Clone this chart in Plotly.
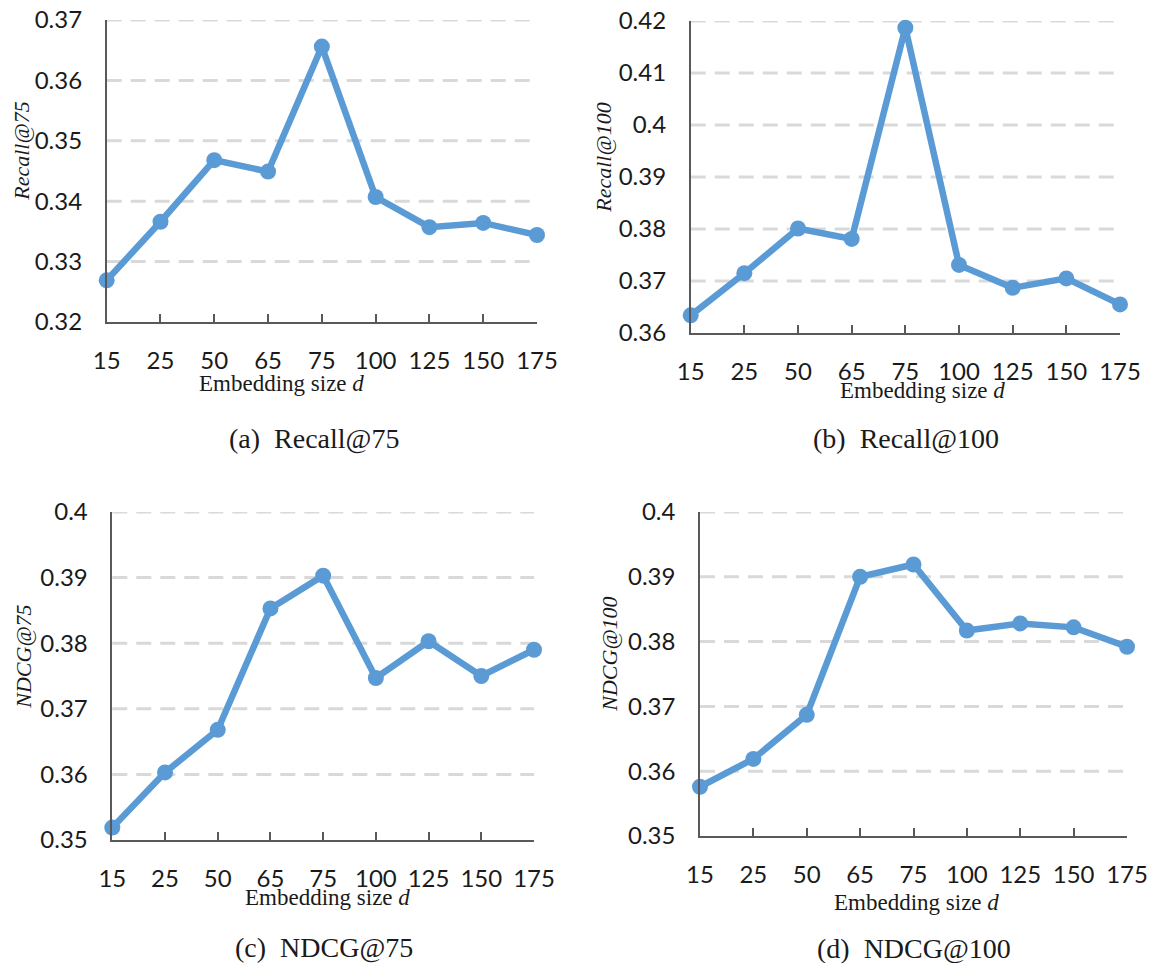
import plotly.graph_objects as go

# ---------------- data ----------------
embedding_sizes = ["15", "25", "50", "65", "75", "100", "125", "150", "175"]

recall_75 = [0.3269, 0.3366, 0.3468, 0.3449, 0.3656, 0.3407, 0.3357, 0.3364, 0.3344]
recall_100 = [0.3634, 0.3715, 0.3801, 0.3781, 0.4187, 0.3731, 0.3687, 0.3705, 0.3655]
ndcg_75 = [0.3519, 0.3603, 0.3668, 0.3853, 0.3903, 0.3747, 0.3803, 0.3750, 0.3790]
ndcg_100 = [0.3576, 0.3619, 0.3687, 0.3900, 0.3919, 0.3817, 0.3828, 0.3822, 0.3792]

yticks_recall_75 = [0.32, 0.33, 0.34, 0.35, 0.36, 0.37]
ytext_recall_75 = ["0.32", "0.33", "0.34", "0.35", "0.36", "0.37"]
yticks_recall_100 = [0.36, 0.37, 0.38, 0.39, 0.40, 0.41, 0.42]
ytext_recall_100 = ["0.36", "0.37", "0.38", "0.39", "0.4", "0.41", "0.42"]
yticks_ndcg = [0.35, 0.36, 0.37, 0.38, 0.39, 0.40]
ytext_ndcg = ["0.35", "0.36", "0.37", "0.38", "0.39", "0.4"]

y_titles = ["Recall@75", "Recall@100", "NDCG@75", "NDCG@100"]
captions = ["(a)  Recall@75", "(b)  Recall@100", "(c)  NDCG@75", "(d)  NDCG@100"]
x_title = "Embedding size <i>d</i>"

# ---------------- layout geometry (paper fractions) ----------------
W, H = 1150, 963
panels = [
    dict(vals=recall_75, yt=yticks_recall_75, ytx=ytext_recall_75,
         px=(106.7, 537), py=(20, 322), ytitle_x=22, xtitle=(281, 383), cap=(314, 438)),
    dict(vals=recall_100, yt=yticks_recall_100, ytx=ytext_recall_100,
         px=(690.7, 1120), py=(21, 333), ytitle_x=604, xtitle=(922, 390), cap=(906, 438)),
    dict(vals=ndcg_75, yt=yticks_ndcg, ytx=ytext_ndcg,
         px=(112.3, 534), py=(512, 840), ytitle_x=24, xtitle=(327, 897), cap=(324, 947)),
    dict(vals=ndcg_100, yt=yticks_ndcg, ytx=ytext_ndcg,
         px=(700, 1127), py=(512, 836), ytitle_x=610, xtitle=(916, 902), cap=(914, 948)),
]

LINE = "#5B9BD5"
AXIS = "#595959"
GRID = "#D9D9D9"
TICKFONT = dict(family="Lato, Open Sans, sans-serif", size=24, color="#1a1a1a")
SERIF = "Liberation Serif, Times New Roman, serif"

fig = go.Figure()
annotations = []
shapes = []

for i, p in enumerate(panels, start=1):
    xa = "x" if i == 1 else f"x{i}"
    ya = "y" if i == 1 else f"y{i}"
    fig.add_trace(go.Scatter(
        x=embedding_sizes, y=p["vals"], mode="lines+markers",
        line=dict(color=LINE, width=6.5),
        marker=dict(color=LINE, size=16),
        cliponaxis=False, showlegend=False,
        xaxis=xa, yaxis=ya,
    ))
    x0, x1 = p["px"][0] / W, p["px"][1] / W
    y0, y1 = 1 - p["py"][1] / H, 1 - p["py"][0] / H
    xkey = "xaxis" if i == 1 else f"xaxis{i}"
    ykey = "yaxis" if i == 1 else f"yaxis{i}"
    fig.layout[xkey] = dict(
        domain=[x0, x1], anchor=ya, type="category",
        range=[0, len(embedding_sizes) - 1], automargin=False,
        showline=True, linecolor=AXIS, linewidth=1.5,
        ticks="inside", ticklen=8, tickwidth=1.5, tickcolor=AXIS,
        showgrid=False, zeroline=False, tickfont=TICKFONT,
        ticklabelstandoff=16,
    )
    fig.layout[ykey] = dict(
        domain=[y0, y1], anchor=xa, automargin=False,
        range=[p["yt"][0], p["yt"][-1]],
        tickvals=p["yt"], ticktext=p["ytx"],
        showline=True, linecolor=AXIS, linewidth=1.5,
        ticks="", showgrid=False, zeroline=False, tickfont=TICKFONT,
        ticklabelstandoff=18,
    )
    # dashed gridlines (skip the bottom one, which is the x axis)
    for v in p["yt"][1:]:
        shapes.append(dict(
            type="line", xref=f"{xa} domain", yref=ya,
            x0=0, x1=1, y0=v, y1=v, layer="below",
            line=dict(color=GRID, width=3, dash="15px,9px"),
        ))
    # axis titles & captions
    annotations.append(dict(
        text=f"<i>{y_titles[i-1]}</i>", xref="paper", yref="paper",
        x=p["ytitle_x"] / W, y=(y0 + y1) / 2 + 0.02, textangle=-90,
        showarrow=False, font=dict(family=SERIF, size=22, color="#1a1a1a"),
        xanchor="center", yanchor="middle",
    ))
    annotations.append(dict(
        text=x_title, xref="paper", yref="paper",
        x=p["xtitle"][0] / W, y=1 - p["xtitle"][1] / H,
        showarrow=False, font=dict(family=SERIF, size=23, color="#1a1a1a"),
        xanchor="center", yanchor="middle",
    ))
    annotations.append(dict(
        text=captions[i-1], xref="paper", yref="paper",
        x=p["cap"][0] / W, y=1 - p["cap"][1] / H,
        showarrow=False, font=dict(family=SERIF, size=28, color="#1a1a1a"),
        xanchor="center", yanchor="middle",
    ))

fig.update_layout(
    width=W, height=H, margin=dict(l=0, r=0, t=0, b=0),
    paper_bgcolor="white", plot_bgcolor="white",
    annotations=annotations, shapes=shapes, showlegend=False,
)

fig.write_html(
    "out.html",
    config={"displayModeBar": False},
    post_script="document.body.style.margin='0';document.body.style.overflow='hidden';",
)
